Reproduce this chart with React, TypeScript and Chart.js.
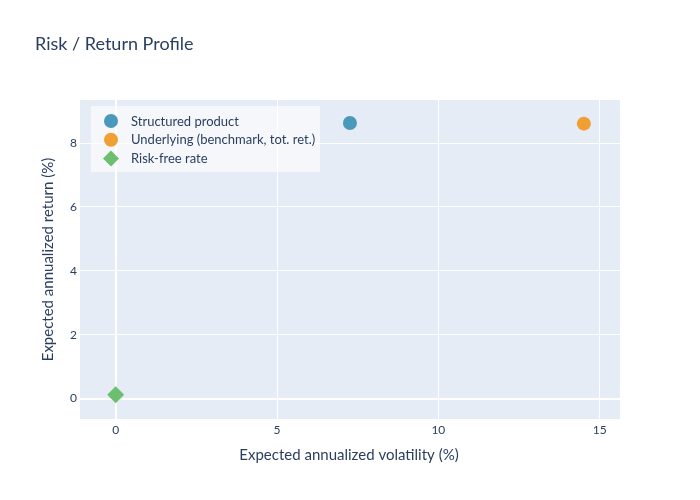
import { useEffect, useRef } from "react"
import { Chart, registerables, Plugin } from "chart.js"

Chart.register(...registerables)

// Series (volatility %, return %)
const seriesLabels = ["Structured product", "Underlying (benchmark, tot. ret.)", "Risk-free rate"]
const volatility = [7.26, 14.51, 0]
const expectedReturn = [8.63, 8.61, 0.12]
const seriesColors = ["#4a99ba", "#f0a033", "#6bbf6e"]
const seriesShapes = ["circle", "circle", "rectRot"] as const

const xTicks = [0, 5, 10, 15]
const yTicks = [0, 2, 4, 6, 8]

const titleText = "Risk / Return Profile"
const xTitle = "Expected annualized volatility (%)"
const yTitle = "Expected annualized return (%)"

const FONT = "Lato, 'Open Sans', sans-serif"
const TEXT = "#2a3f5f"

const plotBg: Plugin<"scatter"> = {
    id: "plotBg",
    beforeDraw(chart) {
        const { ctx, chartArea: a } = chart
        ctx.save()
        ctx.fillStyle = "#e5ecf6"
        ctx.fillRect(a.left, a.top, a.right - a.left, a.bottom - a.top)
        ctx.restore()
    },
}

const decorations: Plugin<"scatter"> = {
    id: "decorations",
    afterDraw(chart) {
        const { ctx, chartArea: a } = chart
        ctx.save()
        ctx.fillStyle = TEXT
        // title
        ctx.font = `18px ${FONT}`
        ctx.textAlign = "left"
        ctx.textBaseline = "middle"
        ctx.fillText(titleText, 35, 44)
        // axis titles
        ctx.font = `15px ${FONT}`
        ctx.textAlign = "center"
        ctx.fillText(xTitle, (a.left + a.right) / 2 - 1, 455)
        ctx.translate(48, (a.top + a.bottom) / 2)
        ctx.rotate(-Math.PI / 2)
        ctx.fillText(yTitle, 0, 0)
        ctx.restore()

        // legend inside plot
        ctx.save()
        ctx.fillStyle = "rgba(255,255,255,0.6)"
        ctx.fillRect(91, 106, 229, 66)
        ctx.font = `13px ${FONT}`
        ctx.textAlign = "left"
        ctx.textBaseline = "middle"
        chart.data.datasets.forEach((ds, i) => {
            const y = 121 + i * 18.7
            ctx.fillStyle = seriesColors[i]
            ctx.beginPath()
            if (seriesShapes[i] === "rectRot") {
                ctx.moveTo(111 - 8, y)
                ctx.lineTo(111, y - 8)
                ctx.lineTo(111 + 8, y)
                ctx.lineTo(111, y + 8)
                ctx.closePath()
            } else {
                ctx.arc(111, y, 7, 0, Math.PI * 2)
            }
            ctx.fill()
            ctx.fillStyle = TEXT
            ctx.fillText(String(ds.label), 131, y + 0.5)
        })
        ctx.restore()
    },
}

export default function App() {
    const canvasRef = useRef<HTMLCanvasElement>(null)
    const chartRef = useRef<Chart<"scatter"> | null>(null)

    useEffect(() => {
        document.body.style.margin = "0"
        if (!canvasRef.current) return
        if (chartRef.current) chartRef.current.destroy()

        const gridWidth = (c: any) => (c.tick && c.tick.value === 0 ? 2 : 1)

        chartRef.current = new Chart(canvasRef.current, {
            type: "scatter",
            data: {
                datasets: seriesLabels.map((label, i) => ({
                    label,
                    data: [{ x: volatility[i], y: expectedReturn[i] }],
                    backgroundColor: seriesColors[i],
                    borderColor: seriesColors[i],
                    borderWidth: 0,
                    pointStyle: seriesShapes[i],
                    pointRadius: seriesShapes[i] === "rectRot" ? 8.5 : 7,
                    pointHoverRadius: seriesShapes[i] === "rectRot" ? 8.5 : 7,
                })),
            },
            options: {
                responsive: false,
                animation: false,
                devicePixelRatio: 1,
                layout: { padding: { top: 100, right: 80, left: 0, bottom: 0 } },
                plugins: {
                    legend: { display: false },
                    title: { display: false },
                    tooltip: { enabled: false },
                },
                scales: {
                    x: {
                        type: "linear",
                        min: -1.106,
                        max: 15.63,
                        border: { display: false },
                        grid: { color: "#ffffff", lineWidth: gridWidth, drawTicks: false },
                        afterBuildTicks: (s) => {
                            s.ticks = xTicks.map((v) => ({ value: v }))
                        },
                        afterFit: (s) => {
                            s.height = 81
                        },
                        ticks: {
                            color: TEXT,
                            font: { family: FONT, size: 12 },
                            padding: 4,
                            maxRotation: 0,
                        },
                    },
                    y: {
                        type: "linear",
                        min: -0.64,
                        max: 9.35,
                        border: { display: false },
                        grid: { color: "#ffffff", lineWidth: gridWidth, drawTicks: false },
                        afterBuildTicks: (s) => {
                            s.ticks = yTicks.map((v) => ({ value: v }))
                        },
                        afterFit: (s) => {
                            s.width = 80
                        },
                        ticks: {
                            color: TEXT,
                            font: { family: FONT, size: 12 },
                            padding: 3,
                        },
                    },
                },
            },
            plugins: [plotBg, decorations],
        })

        return () => {
            if (chartRef.current) {
                chartRef.current.destroy()
                chartRef.current = null
            }
        }
    }, [])

    return (
        <div style={{ width: 700, height: 500, background: "#fff" }}>
            <canvas ref={canvasRef} width={700} height={500} />
        </div>
    )
}
